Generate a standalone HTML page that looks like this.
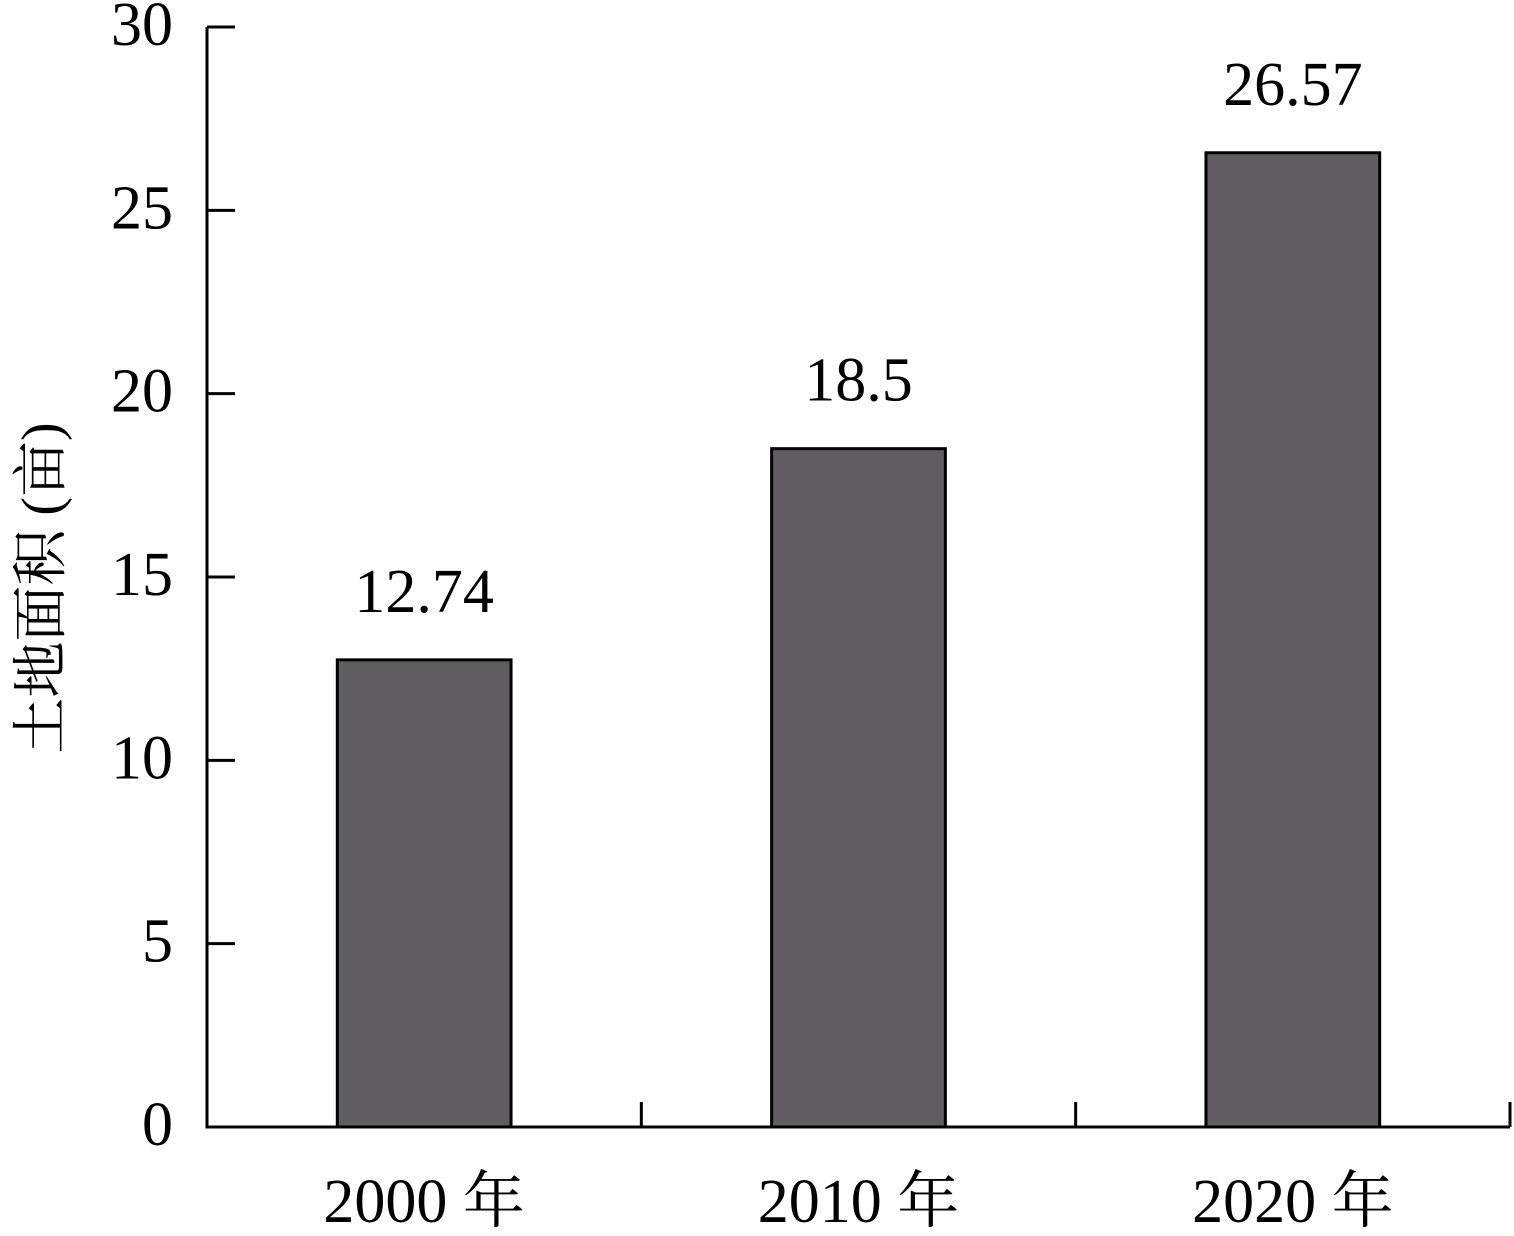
<!DOCTYPE html>
<html><head><meta charset="utf-8"><style>
html,body{margin:0;padding:0;background:#fff;}
svg text{font-family:"Liberation Serif","Noto Serif CJK SC","Noto Sans CJK SC",serif;fill:#000;}
</style></head><body>
<svg id="chart" width="1514" height="1231" viewBox="0 0 1514 1231" xmlns="http://www.w3.org/2000/svg">
<g id="axes"></g><g id="bars"></g>
</svg>
<script>
const categories = ["2000 年","2010 年","2020 年"];
const values = [12.74, 18.5, 26.57];
const valueLabels = ["12.74","18.5","26.57"];
const yTicks = [0,5,10,15,20,25,30];
const NS="http://www.w3.org/2000/svg";
const X0=207, X1=1510, Y0=1127, Y1=27, YMAX=30;
const bandW=(X1-X0)/categories.length;
function y(v){return Y0-(v/YMAX)*(Y0-Y1);}
function xc(i){return X0+bandW*(i+0.5);}
function mk(tag,attrs,parent,txt){const e=document.createElementNS(NS,tag);for(const k in attrs)e.setAttribute(k,attrs[k]);if(txt!==undefined)e.textContent=txt;parent.appendChild(e);return e;}
const axes=document.getElementById('axes'), bars=document.getElementById('bars');
let e;
e=mk('line',{x1:X0,y1:Y1,x2:X0,y2:Y0+1.5,stroke:'#000','stroke-width':3},axes);


e=mk('line',{x1:X0-1.5,y1:Y0,x2:X1,y2:Y0,stroke:'#000','stroke-width':3},axes);


yTicks.forEach(t=>{
  const tk=mk('line',{x1:X0,y1:y(t),x2:X0+28,y2:y(t),stroke:'#000','stroke-width':3},axes);
  
  
  const lb=mk('text',{x:173,y:y(t)+18,'text-anchor':'end','font-size':62},axes,String(t));
  
  
});
for(let i=1;i<=categories.length;i++){
  const xx=X0+bandW*i;
  const tk=mk('line',{x1:xx,y1:Y0,x2:xx,y2:Y0-25,stroke:'#000','stroke-width':3},axes);
  
  
}
const bw=bandW*0.4;
categories.forEach((c,i)=>{
  const r=mk('rect',{x:xc(i)-bw/2,y:y(values[i]),width:bw,height:Y0-y(values[i]),fill:'#5f5d60',stroke:'#000','stroke-width':3},bars);
  
  
  const v=mk('text',{x:xc(i),y:y(values[i])-48,'text-anchor':'middle','font-size':62},bars,valueLabels[i]);
  
  
  const l=mk('text',{x:xc(i),y:1222,'text-anchor':'middle','font-size':62},axes,c);
  
  
});
const t=mk('text',{x:0,y:0,'text-anchor':'middle','font-size':56,transform:'translate(60,588) rotate(-90)'},axes,'土地面积 (亩)');


</script>
</body></html>
